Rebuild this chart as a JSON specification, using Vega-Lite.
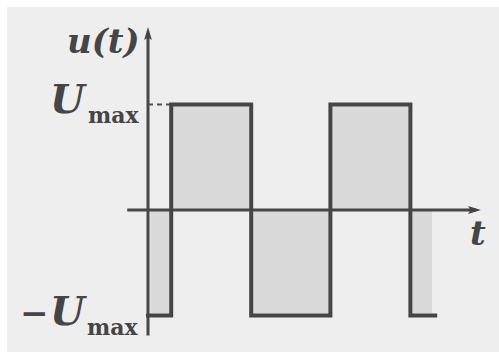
{
  "$schema": "https://vega.github.io/schema/vega-lite/v6.json",
  "width": 492,
  "height": 345,
  "autosize": {"type": "none"},
  "padding": {"left": 7, "top": 7, "right": 0, "bottom": 6},
  "background": "#ffffff",
  "config": {
    "view": {"stroke": null, "fill": "#eeeeee"}
  },
  "datasets": {
    "wave": [
      {"i": 0, "t": 0, "u": -1},
      {"i": 1, "t": 0.29, "u": -1},
      {"i": 2, "t": 0.29, "u": 1},
      {"i": 3, "t": 1.29, "u": 1},
      {"i": 4, "t": 1.29, "u": -1},
      {"i": 5, "t": 2.28, "u": -1},
      {"i": 6, "t": 2.28, "u": 1},
      {"i": 7, "t": 3.28, "u": 1},
      {"i": 8, "t": 3.28, "u": -1},
      {"i": 9, "t": 3.59, "u": -1}
    ],
    "shade": [
      {"t0": 0.03, "t1": 0.27, "u0": -0.98, "u1": 0},
      {"t0": 0.31, "t1": 1.27, "u0": 0, "u1": 0.98},
      {"t0": 1.31, "t1": 2.26, "u0": -0.98, "u1": 0},
      {"t0": 2.30, "t1": 3.26, "u0": 0, "u1": 0.98},
      {"t0": 3.31, "t1": 3.55, "u0": -0.98, "u1": 0}
    ],
    "axes": [
      {"t0": -0.26, "t1": 4.1, "u0": 0, "u1": 0},
      {"t0": 0, "t1": 0, "u0": -1.19, "u1": 1.66}
    ],
    "arrows": [
      {"t": 0, "u": 1.673, "dir": "up"},
      {"t": 4.081, "u": 0, "dir": "right"}
    ],
    "level": [
      {"t0": 0, "t1": 0.29, "u": 1}
    ],
    "italicLabels": [
      {"label": "u(t)", "t": -1.0125, "u": 1.488},
      {"label": "−", "t": -1.6, "u": -1.09},
      {"label": "t", "t": 4.025, "u": -0.332}
    ],
    "amplitude": [
      {"label": "U", "t": -1.225, "u": 0.919},
      {"label": "U", "t": -1.225, "u": -1.09}
    ],
    "subscripts": [
      {"label": "max", "t": -0.75, "u": 0.825},
      {"label": "max", "t": -0.7625, "u": -1.185}
    ]
  },
  "layer": [
    {
      "data": {"name": "shade"},
      "mark": {"type": "rect", "color": "#dadada"},
      "encoding": {
        "x": {"field": "t0", "type": "quantitative", "scale": {"domain": [-1.7625, 4.3875], "nice": false, "zero": false}, "axis": null},
        "x2": {"field": "t1"},
        "y": {"field": "u0", "type": "quantitative", "scale": {"domain": [-1.346, 1.9242], "nice": false, "zero": false}, "axis": null},
        "y2": {"field": "u1"}
      }
    },
    {
      "data": {"name": "level"},
      "mark": {"type": "rule", "color": "#505050", "strokeWidth": 2, "strokeDash": [5, 4]},
      "encoding": {
        "x": {"field": "t0", "type": "quantitative", "scale": {"domain": [-1.7625, 4.3875], "nice": false, "zero": false}, "axis": null},
        "x2": {"field": "t1"},
        "y": {"field": "u", "type": "quantitative", "scale": {"domain": [-1.346, 1.9242], "nice": false, "zero": false}, "axis": null}
      }
    },
    {
      "data": {"name": "axes"},
      "mark": {"type": "rule", "color": "#474747", "strokeWidth": 3},
      "encoding": {
        "x": {"field": "t0", "type": "quantitative", "scale": {"domain": [-1.7625, 4.3875], "nice": false, "zero": false}, "axis": null},
        "x2": {"field": "t1"},
        "y": {"field": "u0", "type": "quantitative", "scale": {"domain": [-1.346, 1.9242], "nice": false, "zero": false}, "axis": null},
        "y2": {"field": "u1"}
      }
    },
    {
      "data": {"name": "wave"},
      "mark": {"type": "line", "color": "#454545", "strokeWidth": 4, "strokeJoin": "miter", "strokeCap": "square"},
      "encoding": {
        "x": {"field": "t", "type": "quantitative", "scale": {"domain": [-1.7625, 4.3875], "nice": false, "zero": false}, "axis": null},
        "y": {"field": "u", "type": "quantitative", "scale": {"domain": [-1.346, 1.9242], "nice": false, "zero": false}, "axis": null},
        "order": {"field": "i", "type": "quantitative"}
      }
    },
    {
      "data": {"name": "arrows"},
      "mark": {"type": "point", "filled": true, "color": "#454545", "opacity": 1, "size": 169},
      "encoding": {
        "x": {"field": "t", "type": "quantitative", "scale": {"domain": [-1.7625, 4.3875], "nice": false, "zero": false}, "axis": null},
        "y": {"field": "u", "type": "quantitative", "scale": {"domain": [-1.346, 1.9242], "nice": false, "zero": false}, "axis": null},
        "shape": {
          "field": "dir",
          "type": "nominal",
          "scale": {"domain": ["up", "right"], "range": ["M0,-1L0.6,1L0,0.6L-0.6,1Z", "M1,0L-1,0.6L-0.6,0L-1,-0.6Z"]},
          "legend": null
        }
      }
    },
    {
      "data": {"name": "italicLabels"},
      "mark": {"type": "text", "font": "DejaVu Serif", "fontSize": 34, "fontStyle": "italic", "fontWeight": "bold", "color": "#454545", "align": "left", "baseline": "alphabetic"},
      "encoding": {
        "x": {"field": "t", "type": "quantitative", "scale": {"domain": [-1.7625, 4.3875], "nice": false, "zero": false}, "axis": null},
        "y": {"field": "u", "type": "quantitative", "scale": {"domain": [-1.346, 1.9242], "nice": false, "zero": false}, "axis": null},
        "text": {"field": "label"}
      }
    },
    {
      "data": {"name": "amplitude"},
      "mark": {"type": "text", "font": "DejaVu Serif", "fontSize": 40, "fontStyle": "italic", "fontWeight": "bold", "color": "#454545", "align": "left", "baseline": "alphabetic"},
      "encoding": {
        "x": {"field": "t", "type": "quantitative", "scale": {"domain": [-1.7625, 4.3875], "nice": false, "zero": false}, "axis": null},
        "y": {"field": "u", "type": "quantitative", "scale": {"domain": [-1.346, 1.9242], "nice": false, "zero": false}, "axis": null},
        "text": {"field": "label"}
      }
    },
    {
      "data": {"name": "subscripts"},
      "mark": {"type": "text", "font": "DejaVu Serif", "fontSize": 22, "fontWeight": "bold", "color": "#454545", "align": "left", "baseline": "alphabetic"},
      "encoding": {
        "x": {"field": "t", "type": "quantitative", "scale": {"domain": [-1.7625, 4.3875], "nice": false, "zero": false}, "axis": null},
        "y": {"field": "u", "type": "quantitative", "scale": {"domain": [-1.346, 1.9242], "nice": false, "zero": false}, "axis": null},
        "text": {"field": "label"}
      }
    }
  ]
}
